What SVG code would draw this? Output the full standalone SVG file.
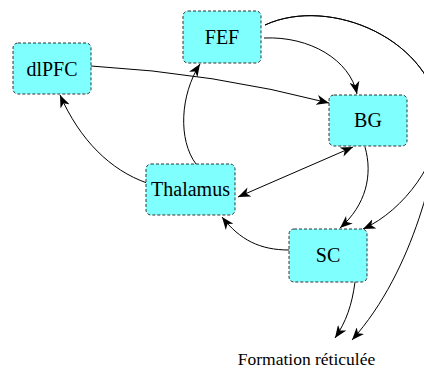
<svg xmlns="http://www.w3.org/2000/svg" width="424" height="369" viewBox="0 0 424 369">
<defs>
<marker id="ah" markerUnits="userSpaceOnUse" markerWidth="13" markerHeight="10" refX="12.5" refY="5" orient="auto-start-reverse" viewBox="0 0 13 10">
<path d="M0,0 L12.5,5 L0,10 L3.5,5 Z" fill="#000"/>
</marker>
<style>
.box{fill:#80FFFF;stroke:#333;stroke-width:1;stroke-dasharray:3 2}
.lbl{font-family:'Liberation Serif','Times New Roman',Times,serif;font-size:20px;fill:#000;text-anchor:middle}
.e{fill:none;stroke:#000;stroke-width:1;marker-end:url(#ah)}
</style>
</defs>
<rect width="424" height="369" fill="#fff"/>
<g id="connectors">
<path class="e" d="M91,66 Q214,73 329,103"/>
<path class="e" d="M264,38 C310,36 350,60 357,94"/>
<path class="e" d="M265,25 C330,-5 435,40 440,120 C440,160 405,210 363,229"/>
<path class="e" d="M265,25 C330,-5 435,40 440,120 C438,160 415,270 352,340"/>
<path class="e" d="M365,147 C373,175 366,205 340,228"/>
<path class="e" d="M289,250 C260,250 240,240 222,217"/>
<path class="e" d="M355,282 C352,305 346,322 335,338"/>
<path class="e" d="M147,183 C110,170 80,140 60,95"/>
<path class="e" d="M196,164 C178,140 180,95 200,64"/>
<path class="e" style="marker-start:url(#ah)" d="M238,197 L353,147"/>
</g>
<g id="dlPFC"><rect class="box" x="13" y="43" width="78" height="51" rx="5"/><text class="lbl" x="52" y="76">dlPFC</text></g>
<g id="FEF"><rect class="box" x="183" y="11" width="78" height="52" rx="5"/><text class="lbl" x="222" y="44">FEF</text></g>
<g id="BG"><rect class="box" x="329" y="95" width="78" height="51" rx="5"/><text class="lbl" x="368" y="127">BG</text></g>
<g id="Thalamus"><rect class="box" x="146" y="164" width="89" height="51" rx="5"/><text class="lbl" x="190.5" y="196">Thalamus</text></g>
<g id="SC"><rect class="box" x="289" y="229" width="78" height="53" rx="5"/><text class="lbl" x="328" y="262">SC</text></g>
<g id="formation"><text class="lbl" style="font-size:17.5px" x="306.5" y="365">Formation réticulée</text></g>
</svg>
